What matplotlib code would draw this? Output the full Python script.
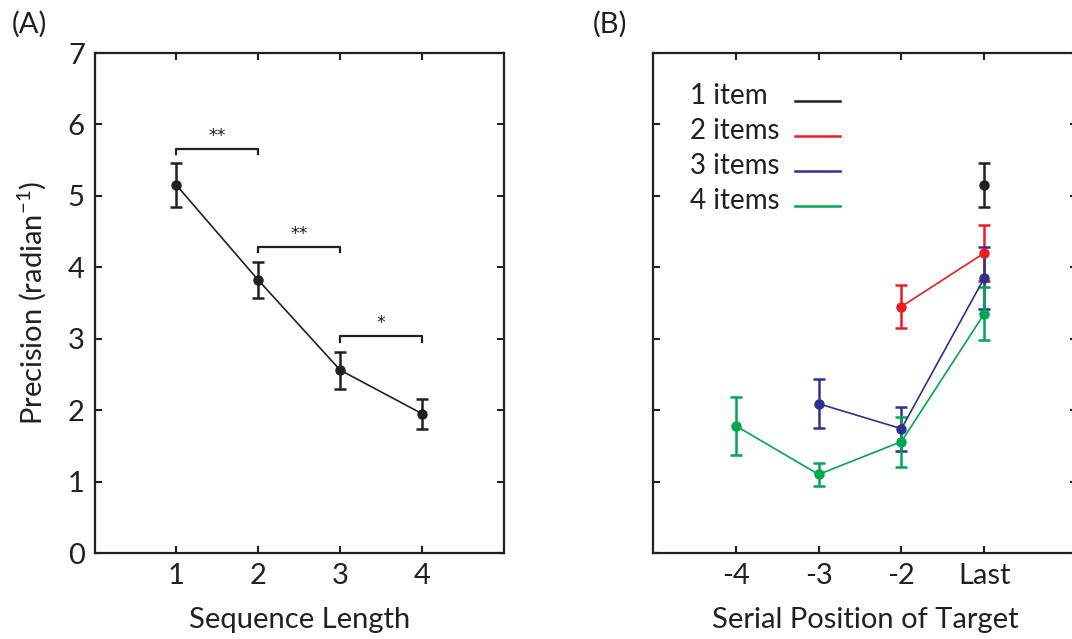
import matplotlib
matplotlib.use("Agg")
import matplotlib.pyplot as plt

plt.rcParams['font.family'] = ['Lato', 'DejaVu Sans']
plt.rcParams['mathtext.fontset'] = 'custom'
plt.rcParams['mathtext.rm'] = 'Lato'
plt.rcParams['mathtext.it'] = 'Lato'

# ---- Panel A data ----
seq_len = [1, 2, 3, 4]
precision = [5.15, 3.82, 2.56, 1.95]
precision_err = [0.31, 0.25, 0.26, 0.21]
# significance brackets: (x1, x2, y, label)
sig_x1 = [1, 2, 3]
sig_x2 = [2, 3, 4]
sig_y = [5.66, 4.29, 3.04]
sig_labels = ['**', '**', '*']

# ---- Panel B data ----
pos_labels = ['-4', '-3', '-2', 'Last']
pos_x = [1, 2, 3, 4]
series_names = ['1 item', '2 items', '3 items', '4 items']
series_colors = ['#231F20', '#ED1C24', '#2E3192', '#00A651']
b1_x = [4]
b1_y = [5.15]
b1_e = [0.31]
b2_x = [3, 4]
b2_y = [3.45, 4.20]
b2_e = [0.30, 0.39]
b3_x = [2, 3, 4]
b3_y = [2.09, 1.74, 3.85]
b3_e = [0.34, 0.31, 0.43]
b4_x = [1, 2, 3, 4]
b4_y = [1.78, 1.10, 1.56, 3.35]
b4_e = [0.41, 0.16, 0.35, 0.37]

W, H = 1072, 639
fig = plt.figure(figsize=(W / 100, H / 100), dpi=100)

def px_axes(left, right, top, bottom):
    return fig.add_axes([left / W, 1 - bottom / H, (right - left) / W, (bottom - top) / H])

axA = px_axes(94.5, 504, 53, 553)
axB = px_axes(653, 1077, 53, 553)

fs = 21
dark = '#231F20'

for ax in (axA, axB):
    for s in ax.spines.values():
        s.set_linewidth(1.6)
        s.set_color(dark)
    ax.tick_params(direction='in', length=5, width=1.5, top=True, right=True,
                   labelsize=fs, colors=dark, pad=7)
    ax.set_ylim(0, 7)
    ax.set_yticks(range(0, 8))

# Panel A
axA.errorbar(seq_len, precision, yerr=precision_err, color=dark, lw=1.2,
             ecolor=dark, elinewidth=1.8, capsize=4, capthick=1.8,
             marker='o', markersize=6.5)
axA.set_xlim(0, 5)
axA.set_xticks(seq_len)
axA.set_xticklabels([str(v) for v in seq_len])
axA.set_ylabel('Precision (radian$^{-1}$)', fontsize=fs, color=dark, labelpad=14)
axA.set_xlabel('Sequence Length', fontsize=fs, color=dark, labelpad=13)
for x1, x2, y, lab in zip(sig_x1, sig_x2, sig_y, sig_labels):
    axA.plot([x1, x1, x2, x2], [y - 0.08, y, y, y - 0.08], color=dark, lw=1.6)
    axA.text((x1 + x2) / 2, y + 0.05, lab, ha='center', va='bottom',
             fontsize=12.5, color=dark, family='DejaVu Sans')

# Panel B
for xs, ys, es, c in zip([b1_x, b2_x, b3_x, b4_x], [b1_y, b2_y, b3_y, b4_y],
                         [b1_e, b2_e, b3_e, b4_e], series_colors):
    axB.errorbar(xs, ys, yerr=es, color=c, lw=1.2, ecolor=c, elinewidth=1.8,
                 capsize=4, capthick=1.8, marker='o', markersize=6.5)
axB.set_xlim(0, 5.12)
axB.set_xticks(pos_x)
axB.set_xticklabels(pos_labels)
axB.set_yticklabels([])
axB.set_xlabel('Serial Position of Target', fontsize=fs, color=dark, labelpad=13)

# legend: labels left, colour swatches right
leg_top = 0.898
leg_step = 0.070
for i, (name, c) in enumerate(zip(series_names, series_colors)):
    yb = leg_top - i * leg_step
    axB.text(0.087, yb, name, transform=axB.transAxes, fontsize=20,
             color=dark, ha='left', va='baseline')
    axB.plot([0.335, 0.441], [yb + 0.006, yb + 0.006], transform=axB.transAxes,
             color=c, lw=1.8)

fig.text(12 / W, 1 - 24 / H, '(A)', fontsize=fs, color=dark, va='center', ha='left')
fig.text(593 / W, 1 - 24 / H, '(B)', fontsize=fs, color=dark, va='center', ha='left')

fig.savefig('out.png', dpi=100)
